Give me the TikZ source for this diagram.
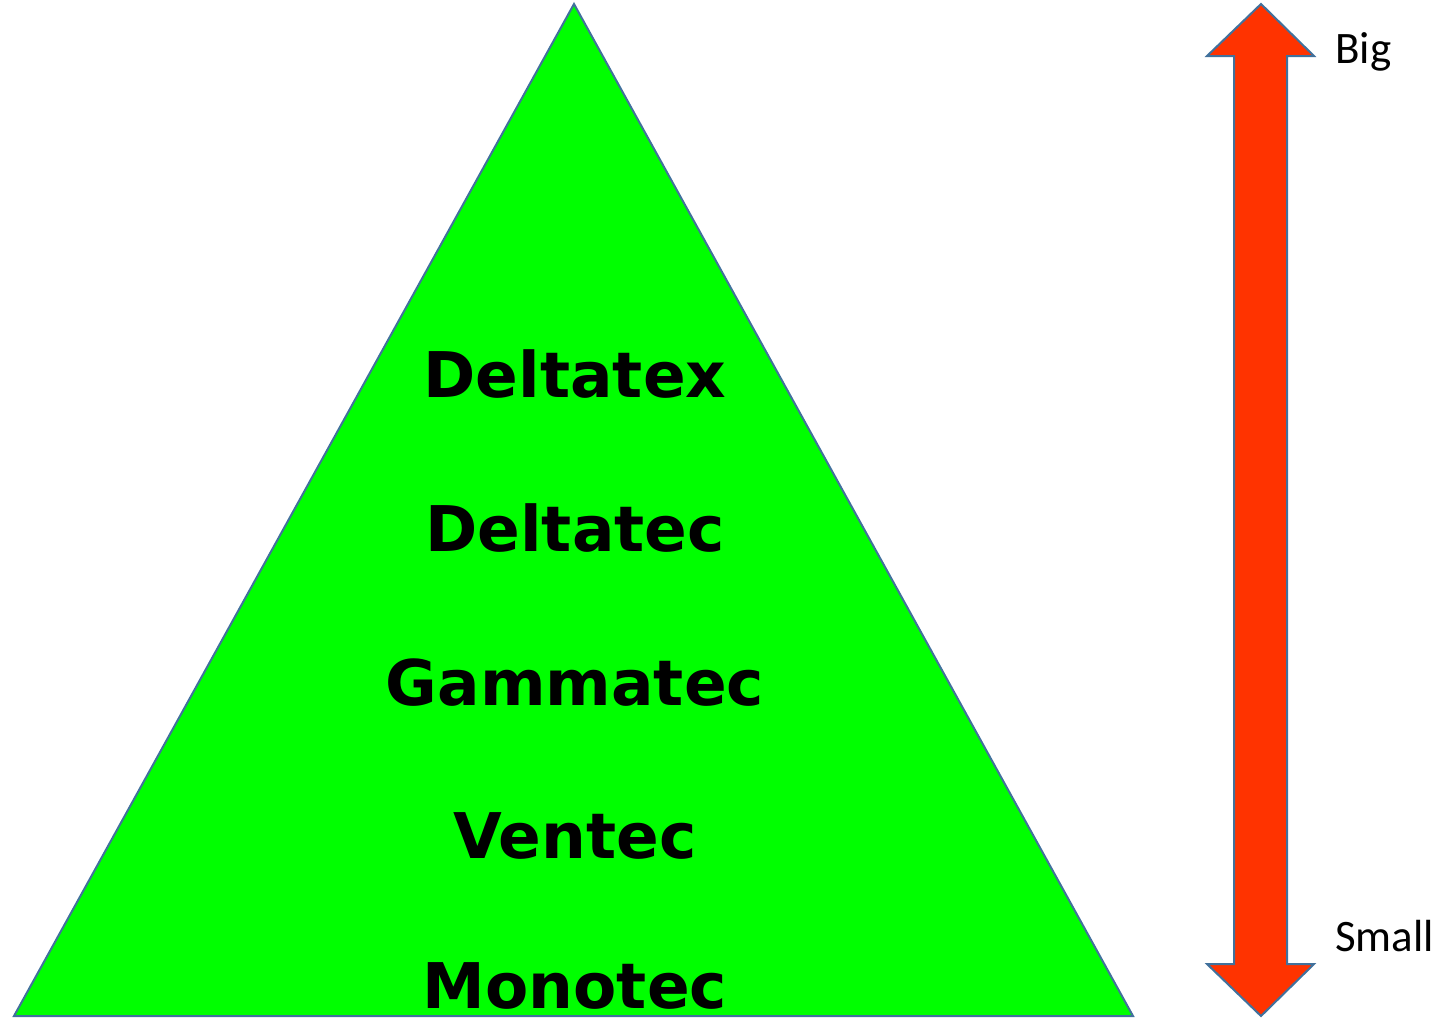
\documentclass[tikz,border=0pt]{standalone}
\usepackage{fontspec}
\newfontfamily\tierfont{DejaVu Sans Bold}
\newfontfamily\scalefont{Carlito}
\definecolor{tierfill}{HTML}{00FF00}
\definecolor{arrowfill}{HTML}{FF3300}
\definecolor{edgecol}{HTML}{41719C}
\tikzset{
  tier/.style={anchor=base,inner sep=0pt,font=\tierfont\fontsize{63}{63}\selectfont},
  sizelabel/.style={anchor=base west,inner sep=0pt,font=\scalefont\fontsize{45}{45}\selectfont}
}
\begin{document}
\begin{tikzpicture}[x=1pt,y=-1pt,line join=miter]
  \useasboundingbox (0,0) rectangle (1446,1018);
%%
  % Shape: pyramid
  \draw [edgecol,line width=2pt,fill=tierfill] (574,4) -- (1133,1016) -- (14,1016) -- cycle;
  % Shape: double arrow
  \draw [edgecol,line width=2pt,fill=arrowfill]
    (1261,4) -- (1314,56) -- (1287,56) -- (1287,964) -- (1314,964)
    -- (1261,1016) -- (1207,964) -- (1234,964) -- (1234,56) -- (1207,56) -- cycle;
  % Node: tiers
  \node [tier] (deltatex) at (575,397) {Deltatex};
  \node [tier] (deltatec) at (575,551) {Deltatec};
  \node [tier] (gammatec) at (575,705) {Gammatec};
  \node [tier] (ventec)   at (575,858) {Ventec};
  \node [tier] (monotec)  at (575,1008) {Monotec};
  % Node: scale labels
  \node [sizelabel] (big)   at (1335,63)  {Big};
  \node [sizelabel] (small) at (1335,951) {Small};
%
\end{tikzpicture}
\end{document}
